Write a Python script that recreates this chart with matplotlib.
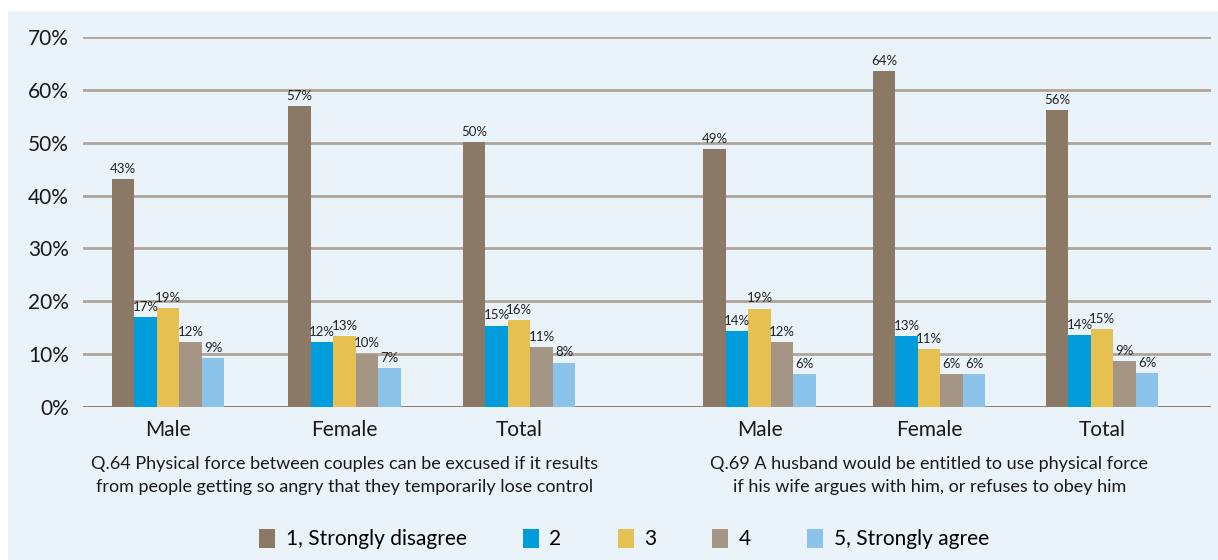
import numpy as np
import matplotlib.pyplot as plt
from matplotlib.patches import Rectangle

plt.rcParams['font.family'] = ['Lato', 'DejaVu Sans']

groups = ['Male', 'Female', 'Total', 'Male', 'Female', 'Total']
series_names = ['1, Strongly disagree', '2', '3', '4', '5, Strongly agree']
colors = ['#8B7965', '#009CDB', '#E6C152', '#A59584', '#8CC3EA']

# values per series, one per group (Q.64 Male/Female/Total, Q.69 Male/Female/Total)
s1 = [43.1, 56.9, 50.1, 48.8, 63.6, 56.1]
s2 = [17.0, 12.3, 15.4, 14.3, 13.4, 13.6]
s3 = [18.7, 13.4, 16.4, 18.6, 11.0, 14.7]
s4 = [12.3, 10.1, 11.3, 12.3, 6.2, 8.7]
s5 = [9.3, 7.3, 8.4, 6.2, 6.2, 6.4]
series = [s1, s2, s3, s4, s5]

questions = ['Q.64 Physical force between couples can be excused if it results\nfrom people getting so angry that they temporarily lose control',
             'Q.69 A husband would be entitled to use physical force\nif his wife argues with him, or refuses to obey him']

W, H = 1218, 560
fig = plt.figure(figsize=(W / 100, H / 100), dpi=100)
fig.patch.set_facecolor('white')
fig.patches.append(Rectangle((8 / W, 0), 1 - 8 / W, 1 - 11 / H, transform=fig.transFigure,
                             facecolor='#EAF2FA', edgecolor='none', zorder=-10))

ax = fig.add_axes([83 / W, 1 - 407 / H, (1211 - 83) / W, (407 - 37) / H])
ax.set_facecolor('none')

x = np.array([0, 1.02, 2.03, 3.42, 4.4, 5.4])
bw = 0.13
for i, (vals, c) in enumerate(zip(series, colors)):
    xs = x + (i - 2) * bw
    ax.bar(xs, vals, width=bw, color=c, label=series_names[i], zorder=3)
    for xi, v in zip(xs, vals):
        ax.text(xi, v + 0.8, f'{round(v)}%', ha='center', va='bottom', fontsize=9.5,
                color='#222222', zorder=4)

ax.set_ylim(0, 70)
ax.set_xlim((83 - 168) / 173, (1211 - 168) / 173)
ax.set_yticks(range(0, 71, 10))
ax.set_yticklabels([f'{t}%' for t in range(0, 71, 10)], fontsize=15, color='#1a1a1a')
ax.yaxis.grid(True, color='#ADA59C', linewidth=2, zorder=1)
ax.axhline(0, color='#8B7965', linewidth=2, zorder=2)
for s in ax.spines.values():
    s.set_visible(False)
ax.tick_params(axis='y', length=0, pad=10)
ax.set_xticks(x)
ax.set_xticklabels(groups, fontsize=15, color='#1a1a1a')
ax.tick_params(axis='x', length=0, pad=9)

for xc, q in zip([x[1], x[4]], questions):
    ax.text(xc, -9.2, q, ha='center', va='top', fontsize=13, color='#1a1a1a',
            linespacing=1.6, transform=ax.transData, clip_on=False)

fig.legend(loc='center', bbox_to_anchor=(624 / W, 1 - 539 / H), ncol=5, frameon=False,
           fontsize=15, handlelength=0.77, handleheight=1.06, columnspacing=2.7,
           handletextpad=0.5)

fig.savefig('out.png', dpi=100, facecolor=fig.get_facecolor())
